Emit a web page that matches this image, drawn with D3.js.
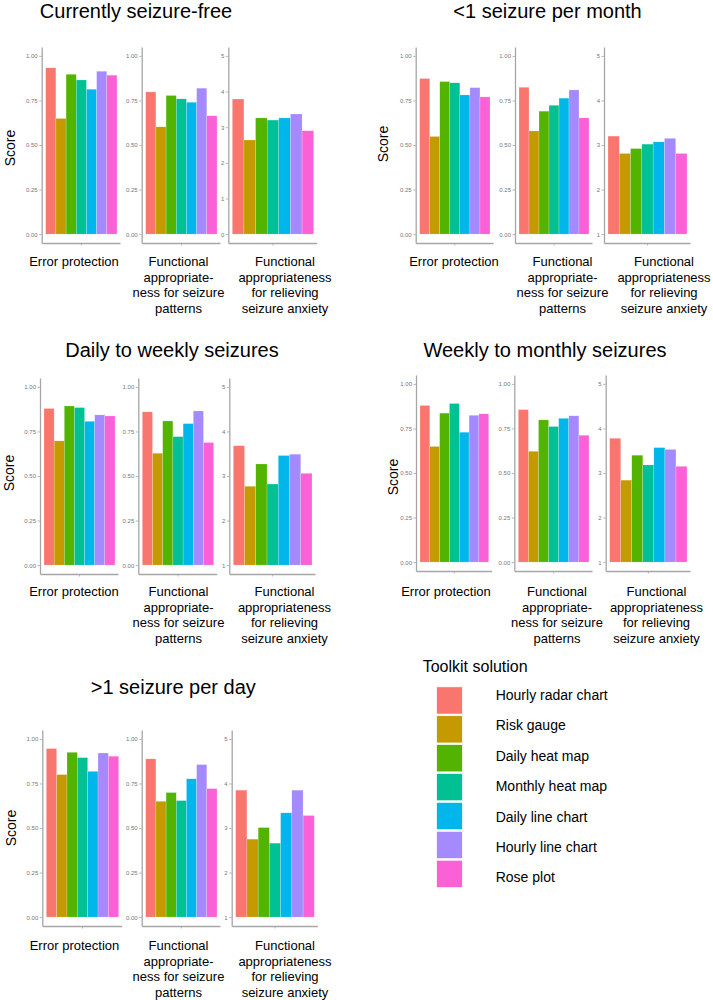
<!DOCTYPE html>
<html>
<head>
<meta charset="utf-8">
<script src="https://cdn.jsdelivr.net/npm/d3@7"></script>
<style>
  html, body { margin: 0; padding: 0; background: #fff; }
  svg { display: block; font-family: "Liberation Sans", Arial, sans-serif; }
</style>
</head>
<body>
<svg id="chart" width="713" height="1000"></svg>
<script>
// ---------- data ----------
const categories = ["Hourly radar chart", "Risk gauge", "Daily heat map", "Monthly heat map",
                    "Daily line chart", "Hourly line chart", "Rose plot"];
const categoryColors = ["#F8766D", "#C49A00", "#53B400", "#00C094", "#00B6EB", "#A58AFF", "#FB61D7"];

const panelTitles = ["Currently seizure-free", "<1 seizure per month", "Daily to weekly seizures",
                     "Weekly to monthly seizures", ">1 seizure per day"];
const facetLabels = [
  ["Error protection"],
  ["Functional", "appropriate-", "ness for seizure", "patterns"],
  ["Functional", "appropriateness", "for relieving", "seizure anxiety"]
];
const yLabel = "Score";
const legendTitle = "Toolkit solution";

const proportionTicks = [0, 0.25, 0.5, 0.75, 1];
const scoreTicksFromZero = [0, 1, 2, 3, 4, 5];
const scoreTicksFromOne = [1, 2, 3, 4, 5];

const freeError      = [0.933, 0.649, 0.897, 0.865, 0.813, 0.914, 0.892];
const freePatterns   = [0.798, 0.602, 0.778, 0.759, 0.740, 0.819, 0.664];
const freeAnxiety    = [3.79, 2.64, 3.26, 3.20, 3.26, 3.37, 2.90];

const underMonthlyError    = [0.873, 0.548, 0.856, 0.849, 0.781, 0.822, 0.770];
const underMonthlyPatterns = [0.824, 0.579, 0.690, 0.723, 0.763, 0.809, 0.652];
const underMonthlyAnxiety  = [3.20, 2.81, 2.92, 3.02, 3.07, 3.15, 2.81];

const dailyWeeklyError    = [0.879, 0.697, 0.893, 0.884, 0.807, 0.843, 0.837];
const dailyWeeklyPatterns = [0.860, 0.628, 0.809, 0.721, 0.794, 0.865, 0.688];
const dailyWeeklyAnxiety  = [3.68, 2.77, 3.27, 2.82, 3.46, 3.49, 3.06];

const weeklyMonthlyError    = [0.879, 0.649, 0.836, 0.890, 0.729, 0.824, 0.832];
const weeklyMonthlyPatterns = [0.856, 0.622, 0.798, 0.761, 0.807, 0.821, 0.712];
const weeklyMonthlyAnxiety  = [3.78, 2.84, 3.40, 3.18, 3.57, 3.53, 3.15];

const overDailyError    = [0.946, 0.800, 0.925, 0.895, 0.818, 0.921, 0.903];
const overDailyPatterns = [0.888, 0.650, 0.699, 0.654, 0.776, 0.856, 0.721];
const overDailyAnxiety  = [3.85, 2.75, 3.01, 2.66, 3.34, 3.85, 3.28];

// ---------- layout (positions only) ----------
const panels = [
  { title: panelTitles[0], tx: 136, ty: 18, sx: 15, sy: 148, top: 47,
    facets: [[41.7, 120], [141.7, 220], [228.3, 316.7]], lc: [74, 178.5, 285], lb: 266,
    series: [freeError, freePatterns, freeAnxiety], anxTicks: scoreTicksFromZero },
  { title: panelTitles[1], tx: 547.5, ty: 18, sx: 388, sy: 144, top: 47,
    facets: [[415.7, 493], [515, 592], [604, 690]], lc: [454, 562.5, 664], lb: 266,
    series: [underMonthlyError, underMonthlyPatterns, underMonthlyAnxiety], anxTicks: scoreTicksFromOne },
  { title: panelTitles[2], tx: 172, ty: 357, sx: 14, sy: 473, top: 378,
    facets: [[40, 118], [138.3, 216.7], [229.3, 315]], lc: [74, 178.5, 284.5], lb: 596,
    series: [dailyWeeklyError, dailyWeeklyPatterns, dailyWeeklyAnxiety], anxTicks: scoreTicksFromOne },
  { title: panelTitles[3], tx: 545, ty: 357, sx: 398, sy: 477, top: 375,
    facets: [[416, 491.7], [514.3, 592], [605.7, 690]], lc: [446, 557, 656.5], lb: 596,
    series: [weeklyMonthlyError, weeklyMonthlyPatterns, weeklyMonthlyAnxiety], anxTicks: scoreTicksFromOne },
  { title: panelTitles[4], tx: 173.3, ty: 694, sx: 16, sy: 828, top: 730,
    facets: [[42.3, 121.7], [141.7, 220], [231.7, 317.3]], lc: [74.5, 178.5, 285], lb: 950,
    series: [overDailyError, overDailyPatterns, overDailyAnxiety], anxTicks: scoreTicksFromZero.slice(1) }
];
const panelHeight = 196;
const axisColor = "#a6a6a6";
const tickTextColor = "#777";

const svg = d3.select("#chart");
const color = d3.scaleOrdinal().domain(categories).range(categoryColors);

panels.forEach((p, pi) => {
  const g = svg.append("g");
  g.append("text").attr("x", p.tx).attr("y", p.ty).attr("text-anchor", "middle")
    .attr("font-size", 20).attr("fill", "#000").text(p.title);
  g.append("text").attr("transform", `translate(${p.sx},${p.sy}) rotate(-90)`)
    .attr("text-anchor", "middle").attr("font-size", 14).attr("fill", "#000").text(yLabel);

  p.facets.forEach((f, fi) => {
    const [left, right] = f;
    const ticks = fi < 2 ? proportionTicks : p.anxTicks;
    const lo = ticks[0], hi = ticks[ticks.length - 1];
    const pad = (hi - lo) * 0.05;
    const y = d3.scaleLinear().domain([lo - pad, hi + pad]).range([p.top + panelHeight, p.top]);
    const x = d3.scaleBand().domain(categories).range([left + 4, right - 3]).padding(0);
    const xAxisScale = d3.scalePoint().domain(["c"]).range([left, right]).padding(0.5);
    const values = p.series[fi];

    // bars
    g.append("g").selectAll("rect").data(values).join("rect")
      .attr("x", (d, i) => x(categories[i]))
      .attr("width", x.bandwidth())
      .attr("y", d => y(d))
      .attr("height", d => y(lo) - y(d))
      .attr("fill", (d, i) => color(categories[i]))
      .attr("stroke", "#fff").attr("stroke-opacity", 0.5).attr("stroke-width", 0.4);

    // y axis
    const yAxis = d3.axisLeft(y).tickValues(ticks)
      .tickFormat(fi < 2 ? d3.format(".2f") : d3.format("d"))
      .tickSize(2.5).tickSizeOuter(0).tickPadding(1.5);
    const ya = g.append("g").attr("transform", `translate(${left},0)`).call(yAxis);
    ya.select(".domain").attr("stroke", axisColor).attr("stroke-width", 1.3);
    ya.selectAll(".tick line").attr("stroke", axisColor).attr("stroke-width", 0.8);
    ya.selectAll(".tick text").attr("fill", tickTextColor).attr("font-size", 6)
      .attr("font-family", "Liberation Sans, Arial, sans-serif");

    // x axis
    const xAxis = d3.axisBottom(xAxisScale).tickFormat("").tickSize(2.5).tickSizeOuter(0);
    const xa = g.append("g").attr("transform", `translate(0,${p.top + panelHeight})`).call(xAxis);
    xa.select(".domain").attr("stroke", axisColor).attr("stroke-width", 1.3);
    xa.selectAll(".tick line").attr("stroke", axisColor).attr("stroke-width", 0.8);

    // facet label
    const t = g.append("text").attr("text-anchor", "middle").attr("font-size", 13).attr("fill", "#000");
    facetLabels[fi].forEach((line, li) => {
      t.append("tspan").attr("x", p.lc[fi]).attr("y", p.lb + li * 15.7).text(line);
    });
  });
});

// ---------- legend ----------
const lg = svg.append("g");
lg.append("text").attr("x", 422.7).attr("y", 671.5).attr("font-size", 16).attr("fill", "#000").text(legendTitle);
const ly = d3.scaleBand().domain(categories).range([686, 686 + 28.9 * categories.length]).paddingInner(0.06).paddingOuter(0.03);
lg.selectAll("rect.key").data(categories).join("rect").attr("class", "key")
  .attr("x", 436.7).attr("width", 25.6)
  .attr("y", d => ly(d)).attr("height", ly.bandwidth())
  .attr("fill", d => color(d))
  .attr("stroke", "#fff").attr("stroke-width", 0.6);
const lt = d3.scalePoint().domain(categories).range([700, 700 + 30.4 * (categories.length - 1)]);
lg.selectAll("text.lab").data(categories).join("text").attr("class", "lab")
  .attr("x", 495.7).attr("y", d => lt(d)).attr("font-size", 14).attr("fill", "#000").text(d => d);
</script>
</body>
</html>
